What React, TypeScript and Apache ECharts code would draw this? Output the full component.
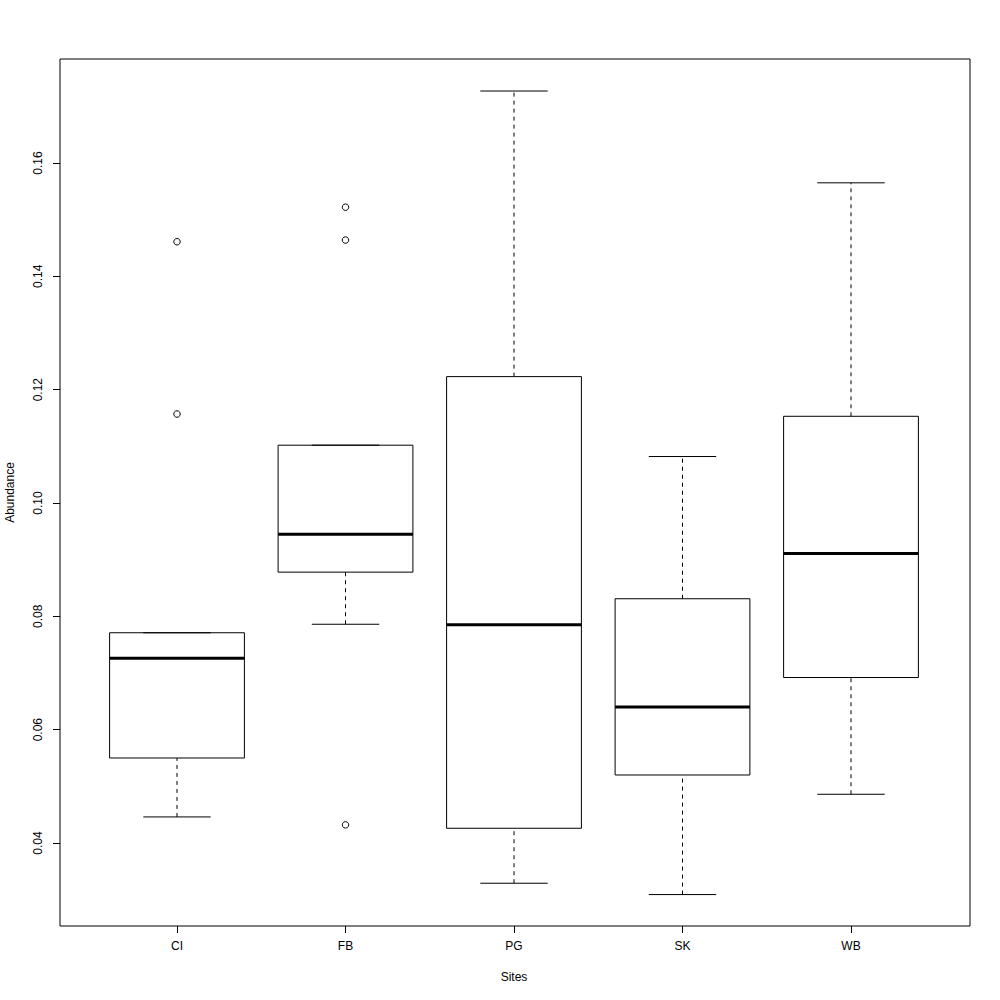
import React, { useEffect, useRef } from "react";
import * as echarts from "echarts";

const categories = ["CI", "FB", "PG", "SK", "WB"];
// [lowerWhisker, Q1, median, Q3, upperWhisker]
const lowerWhisker = [0.0446, 0.0786, 0.0329, 0.0309, 0.0486];
const q1Values = [0.0550, 0.0878, 0.0426, 0.0520, 0.0692];
const medianValues = [0.0726, 0.0945, 0.0785, 0.0640, 0.0911];
const q3Values = [0.0771, 0.1102, 0.1223, 0.0831, 0.1153];
const upperWhisker = [0.0771, 0.1102, 0.1727, 0.1082, 0.1565];
// outliers: [categoryIndex, value]
const outliers: [number, number][] = [
  [0, 0.1461],
  [0, 0.1157],
  [1, 0.1522],
  [1, 0.1464],
  [1, 0.0432],
];
const yTicks = [0.04, 0.06, 0.08, 0.1, 0.12, 0.14, 0.16];
const yMin = 0.025353;
const yMax = 0.17835;

const FONT = '"Liberation Sans", Arial, Helvetica, sans-serif';

export default function App() {
  const ref = useRef<HTMLDivElement>(null);
  useEffect(() => {
    if (!ref.current) return;
    const chart = echarts.init(ref.current, null, { renderer: "svg" });
    const boxData = categories.map((_, i) => [
      i,
      lowerWhisker[i],
      q1Values[i],
      medianValues[i],
      q3Values[i],
      upperWhisker[i],
    ]);
    const option: any = {
      animation: false,
      backgroundColor: "#ffffff",
      textStyle: { fontFamily: FONT, color: "#000" },
      grid: {
        left: 92.75,
        right: 64.75,
        top: 59,
        bottom: 74,
        containLabel: false,
        outerBoundsMode: "none",
      },
      xAxis: {
        type: "category",
        data: categories,
        boundaryGap: true,
        name: "Sites",
        nameLocation: "middle",
        nameGap: 45,
        nameTextStyle: { fontFamily: FONT, fontSize: 12, color: "#000" },
        axisLine: { show: false },
        axisTick: { show: true, alignWithLabel: true, length: 7, lineStyle: { color: "#000", width: 1 } },
        axisLabel: { fontFamily: FONT, fontSize: 12, color: "#000", margin: 14 },
        splitLine: { show: false },
      },
      yAxis: {
        type: "value",
        min: yMin,
        max: yMax,
        offset: 32.75,
        name: "Abundance",
        nameLocation: "middle",
        nameGap: 44,
        nameRotate: 90,
        nameTextStyle: { fontFamily: FONT, fontSize: 12, color: "#000" },
        axisLine: { show: false },
        axisTick: {
          show: true,
          length: 7,
          customValues: yTicks,
          lineStyle: { color: "#000", width: 1 },
        },
        axisLabel: {
          show: true,
          customValues: yTicks,
          rotate: 90,
          margin: 16,
          fontFamily: FONT,
          fontSize: 12,
          color: "#000",
          formatter: (v: number) => v.toFixed(2),
        },
        splitLine: { show: false },
      },
      graphic: [
        {
          type: "rect",
          z: 100,
          shape: { x: 60, y: 59, width: 910, height: 867 },
          style: { fill: "none", stroke: "#000", lineWidth: 1 },
          silent: true,
        },
      ],
      series: [
        {
          type: "custom",
          data: boxData,
          encode: { x: 0, y: [1, 2, 3, 4, 5] },
          renderItem: (params: any, api: any) => {
            const idx = api.value(0);
            const lo = api.coord([idx, api.value(1)]);
            const q1 = api.coord([idx, api.value(2)]);
            const med = api.coord([idx, api.value(3)]);
            const q3 = api.coord([idx, api.value(4)]);
            const hi = api.coord([idx, api.value(5)]);
            const x = lo[0];
            const band = api.size([1, 0])[0];
            const half = band * 0.4;
            const staple = band * 0.2;
            const solid = { stroke: "#000", lineWidth: 1, fill: "none" };
            const dashed = { stroke: "#000", lineWidth: 1, lineDash: [4, 4], fill: "none" };
            return {
              type: "group",
              children: [
                { type: "line", shape: { x1: x, y1: lo[1], x2: x, y2: q1[1] }, style: dashed },
                { type: "line", shape: { x1: x, y1: q3[1], x2: x, y2: hi[1] }, style: dashed },
                { type: "line", shape: { x1: x - staple, y1: lo[1], x2: x + staple, y2: lo[1] }, style: solid },
                { type: "line", shape: { x1: x - staple, y1: hi[1], x2: x + staple, y2: hi[1] }, style: solid },
                {
                  type: "rect",
                  shape: { x: x - half, y: q3[1], width: half * 2, height: q1[1] - q3[1] },
                  style: solid,
                },
                {
                  type: "line",
                  shape: { x1: x - half, y1: med[1], x2: x + half, y2: med[1] },
                  style: { stroke: "#000", lineWidth: 3, fill: "none" },
                },
              ],
            };
          },
          z: 2,
        },
        {
          type: "scatter",
          data: outliers,
          symbol: "circle",
          symbolSize: 6.5,
          itemStyle: { color: "#fff", borderColor: "#000", borderWidth: 1, opacity: 1 },
          z: 3,
        },
      ],
    };
    chart.setOption(option);
    return () => chart.dispose();
  }, []);
  return (
    <div
      ref={ref}
      style={{ position: "absolute", left: 0, top: 0, width: 1000, height: 1000, background: "#fff" }}
    />
  );
}
